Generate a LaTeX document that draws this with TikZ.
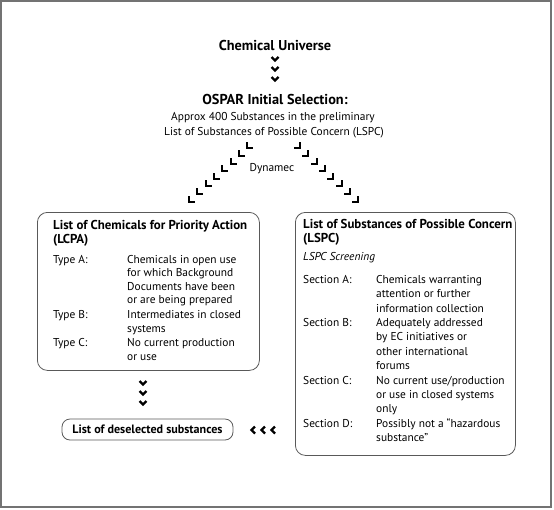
\documentclass[tikz,border=0pt]{standalone}
\usepackage{fontspec}
\setmainfont{PT Sans}
\begin{document}
\begin{tikzpicture}[x=1pt,y=-1pt,
  frame/.style={draw=black!55,line width=1.5pt},
  box/.style={draw=black!65,line width=0.8pt,rounded corners=10pt},
  chev/.style={line width=2.2pt,line cap=butt,line join=miter},
  txt/.style={anchor=base west,inner sep=0pt,font=\fontsize{11.4}{14}\selectfont},
  ttl/.style={anchor=base west,inner sep=0pt,font=\fontsize{12.9}{14}\selectfont\bfseries},
  big/.style={anchor=base,inner sep=0pt,font=\fontsize{14.3}{16}\selectfont\bfseries},
  ctr/.style={anchor=base,inner sep=0pt,font=\fontsize{11.4}{14}\selectfont},
  down/.pic={\draw[chev] (-3.5,-2) -- (0,1.5) -- (3.5,-2);},
  leftc/.pic={\draw[chev] (2,-3.5) -- (-1.5,0) -- (2,3.5);},
  dl/.pic={\draw[chev] (0,-6) -- (0,0) -- (6,0);},
  dr/.pic={\draw[chev] (-6,0) -- (0,0) -- (0,-6);}
]
\useasboundingbox (0,0) rectangle (554,509);
\draw[frame] (1,1) rectangle (551,507);

% top
\node[big] (cu) at (275,50) {Chemical Universe};
\foreach \y [count=\i] in {59,69,79} \pic (d\i) at (275,\y) {down};
\node[big] (os) at (275,104) {OSPAR Initial Selection:};
\node[ctr] (l1) at (273,120) {Approx 400 Substances in the preliminary};
\node[ctr] (l2) at (274,135) {List of Substances of Possible Concern (LSPC)};
\node[ctr] (dy) at (272,171) {Dynamec};

\foreach \x/\y [count=\i] in {247/148,239/156,231/164,222/171,214/179,206/186,197/194,189/202}
  \pic (L\i) at (\x,\y) {dl};
\foreach \x/\y [count=\i] in {300/148,308/156,317/164,325/171,333/179,342/186,350/194,358/202}
  \pic (R\i) at (\x,\y) {dr};

% left box
\node[box,minimum width=222pt,minimum height=158pt,anchor=north west,inner sep=0pt] (lcpa) at (37,212) {};
\node[ttl] (lt1) at (53,229) {List of Chemicals for Priority Action};
\node[ttl] (lt2) at (53,243) {(LCPA)};
\node[txt] (ta) at (53,263) {Type A:};
\node[txt] (ta1) at (127,263) {Chemicals in open use};
\node[txt] (ta2) at (127,276.5) {for which Background};
\node[txt] (ta3) at (127,290) {Documents have been};
\node[txt] (ta4) at (127,303.5) {or are being prepared};
\node[txt] (tb) at (53,318) {Type B:};
\node[txt] (tb1) at (127,318) {Intermediates in closed};
\node[txt] (tb2) at (127,332) {systems};
\node[txt] (tc) at (53,346) {Type C:};
\node[txt] (tc1) at (127,346) {No current production};
\node[txt] (tc2) at (127,360) {or use};

% right box
\node[box,minimum width=220pt,minimum height=243pt,anchor=north west,inner sep=0pt] (lspc) at (295,212) {};
\node[ttl] (rt1) at (303,228.5) {List of Substances of Possible Concern};
\node[ttl] (rt2) at (303,242) {(LSPC)};
\node[txt,font=\fontsize{11.4}{14}\selectfont\itshape] (rs) at (303,260) {LSPC Screening};
\node[txt] (sa) at (303,283.5) {Section A:};
\node[txt] (sa1) at (376,283.5) {Chemicals warranting};
\node[txt] (sa2) at (376,297.8) {attention or further};
\node[txt] (sa3) at (376,312.2) {information collection};
\node[txt] (sb) at (303,326.5) {Section B:};
\node[txt] (sb1) at (376,326.5) {Adequately addressed};
\node[txt] (sb2) at (376,340.9) {by EC initiatives or};
\node[txt] (sb3) at (376,355.3) {other international};
\node[txt] (sb4) at (376,369.6) {forums};
\node[txt] (sc) at (303,384) {Section C:};
\node[txt] (sc1) at (376,384) {No current use/production};
\node[txt] (sc2) at (376,398.3) {or use in closed systems};
\node[txt] (sc3) at (376,412.7) {only};
\node[txt] (sd) at (303,427) {Section D:};
\node[txt] (sd1) at (376,427) {Possibly not a ``hazardous};
\node[txt] (sd2) at (376,441.4) {substance''};

% bottom
\foreach \y [count=\i] in {383,393,403} \pic (b\i) at (143,\y) {down};
\node[draw=black!65,line width=0.8pt,rounded corners=8pt,minimum width=171pt,minimum height=21pt,inner sep=0pt,font=\fontsize{12.1}{14}\selectfont\bfseries] (des) at (147.5,429.5) {List of deselected substances};
\foreach \x [count=\i] in {253,263,273} \pic (h\i) at (\x,430) {leftc};
\end{tikzpicture}
\end{document}
